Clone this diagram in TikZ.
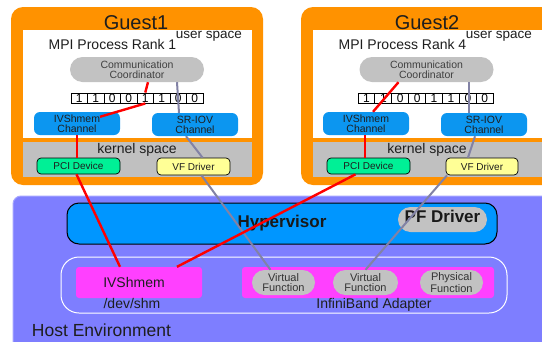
\documentclass[tikz,border=0pt]{standalone}
\usepackage{fontspec}
\setmainfont{Liberation Sans}
\usetikzlibrary{calc}
\definecolor{gorange}{RGB}{255,146,0}
\definecolor{kgray}{RGB}{192,192,192}
\definecolor{ccgray}{RGB}{194,194,194}
\definecolor{chblue}{RGB}{12,150,240}
\definecolor{hypblue}{RGB}{0,150,255}
\definecolor{pcigreen}{RGB}{0,240,150}
\definecolor{vfyellow}{RGB}{255,255,150}
\definecolor{hostblue}{RGB}{126,126,255}
\definecolor{hostline}{RGB}{165,165,255}
\definecolor{magent}{RGB}{255,64,255}
\definecolor{glinec}{RGB}{130,130,165}
\definecolor{txtdark}{RGB}{30,30,30}
\newcommand{\fs}[1]{\fontsize{#1}{#1}\selectfont}
\begin{document}
\begin{tikzpicture}[x=1pt,y=-1pt,
  lbl/.style={inner sep=0pt, text=txtdark, anchor=base},
  ccbox/.style={fill=ccgray, rounded corners=12.5pt, minimum width=134pt, minimum height=25pt, inner sep=0pt, align=center, text=black!75, font=\fs{10.5}, execute at begin node=\setlength{\baselineskip}{10pt}},
  chbox/.style={fill=chblue, rounded corners=6pt, minimum width=86pt, minimum height=23pt, inner sep=0pt, align=center, text=txtdark, font=\fs{10.5}, execute at begin node=\setlength{\baselineskip}{10pt}},
  devbox/.style={draw=black, line width=0.7pt, rounded corners=4pt, minimum height=16pt, inner sep=0pt, text=txtdark, font=\fs{10}},
  bitcell/.style={draw=black, line width=0.9pt, fill=white, minimum height=10pt, inner sep=0pt, font=\fs{12}},
  fnbox/.style={fill=ccgray, rounded corners=12.5pt, minimum height=25pt, inner sep=0pt, align=center, text=black!80, font=\fs{11}, execute at begin node=\setlength{\baselineskip}{10pt}},
  redline/.style={draw=red, line width=2.4pt},
  grayline/.style={draw=glinec, line width=2pt}]
\clip (0,0) rectangle (542,341);
\fill[white] (0,0) rectangle (542,341);
% host environment
\draw[fill=hostblue, draw=hostline, line width=1pt, rounded corners=8pt] (13,196) rectangle (580,380);
% guests
\fill[gorange, rounded corners=12pt] (11,7) rectangle (263,185);
\fill[white] (23,30) rectangle (252,138);
\fill[kgray] (23,142) rectangle (252,177);
\fill[gorange, rounded corners=12pt] (301,7) rectangle (580,185);
\fill[white] (313,30) rectangle (570,138);
\fill[kgray] (313,142) rectangle (570,177);
% guest titles and texts
\node[lbl, font=\fs{20}] (g1) at (136,29) {Guest1};
\node[lbl, font=\fs{20}] (g2) at (427,29) {Guest2};
\node[lbl, font=\fs{13.5}] (us1) at (209,38.5) {user space};
\node[lbl, font=\fs{13.5}] (us2) at (499,38.5) {user space};
\node[lbl, font=\fs{14}] (mpi1) at (112.5,49) {MPI Process Rank 1};
\node[lbl, font=\fs{14}] (mpi2) at (402.5,49) {MPI Process Rank 4};
\node[lbl, font=\fs{14}] (ks1) at (137,153) {kernel space};
\node[lbl, font=\fs{14}] (ks2) at (427,153) {kernel space};
% communication coordinators
\node[ccbox] (c1) at (137,69.5) {Communication\\Coordinator};
\node[ccbox] (c2) at (426.5,69.5) {Communication\\Coordinator};
% bit arrays
\foreach \i/\v in {1/1,2/1,3/0,4/0,5/1,6/1,7/0,8/0} {
  \node[bitcell, minimum width=16.5pt] (b1-\i) at ({71+16.5*\i-8.25},98) {\v};
  \node[bitcell, minimum width=16.9pt] (b2-\i) at ({358+16.9*\i-8.45},98) {\v};
}
% channels
\node[chbox] (ivc1) at (77,123.5) {IVShmem\\Channel};
\node[chbox] (srv1) at (195,124.5) {SR-IOV\\Channel};
\node[chbox] (ivc2) at (366,123.5) {IVShmem\\Channel};
\node[chbox] (srv2) at (484,124.5) {SR-IOV\\Channel};
% kernel devices
\node[devbox, fill=pcigreen, minimum width=83pt] (pci1) at (78.5,166) {PCI Device};
\node[devbox, fill=vfyellow, minimum width=73pt, minimum height=17pt] (vf1) at (193.5,166.5) {VF Driver};
\node[devbox, fill=pcigreen, minimum width=83pt] (pci2) at (368.5,166) {PCI Device};
\node[devbox, fill=vfyellow, minimum width=72pt, minimum height=17pt] (vf2) at (482,166.5) {VF Driver};
% hypervisor
\node[draw=black, line width=1pt, fill=hypblue, rounded corners=12pt, minimum width=430pt, minimum height=41pt, inner sep=0pt, font=\bfseries\fs{17}, text=black!90] (hyp) at (282,223.5) {Hypervisor};
\node[fill=ccgray, rounded corners=12.5pt, minimum width=89pt, minimum height=25pt, inner sep=0pt, text height=12pt, text depth=6pt, font=\bfseries\fs{17}, text=black!90] (pf) at (442.5,219.5) {PF Driver};
% host shared memory & adapter
\draw[white, line width=1pt, rounded corners=18pt] (61,257) rectangle (507,313);
\node[fill=magent, rounded corners=3pt, minimum width=126pt, minimum height=31pt, inner sep=0pt] (ivs) at (139,282.5) {};
\node[lbl, font=\fs{14}] (ivst) at (134,287) {IVShmem};
\node[lbl, font=\fs{14}] (shm) at (132,308.5) {/dev/shm};
\node[fill=magent, rounded corners=3pt, minimum width=252pt, minimum height=31pt, inner sep=0pt] (iba) at (368,282.5) {};
\node[lbl, font=\fs{14}] (ibat) at (374,308.5) {InfiniBand Adapter};
\node[fnbox, minimum width=63pt] (vfn1) at (283.5,282.5) {Virtual\\Function};
\node[fnbox, minimum width=65pt] (vfn2) at (365.5,282.5) {Virtual\\Function};
\node[fnbox, minimum width=63pt] (phf) at (451.5,282.5) {Physical\\Function};
\node[lbl, font=\fs{17.5}] (he) at (101.5,336) {Host Environment};
% gray (SR-IOV) paths
\draw[grayline] ([xshift=40pt]c1.south) -- ([xshift=-16pt]srv1.north);
\draw[grayline] ([xshift=-9pt]srv1.south) -- ([xshift=9pt]vf1.north);
\draw[grayline] ([xshift=8pt]vf1.south) -- ([xshift=-13pt]vfn1.north);
\draw[grayline] ([xshift=42.5pt]c2.south) -- ([xshift=-15pt]srv2.north);
\draw[grayline] ([xshift=-9pt]srv2.south) -- ([xshift=-14pt]vf2.north);
\draw[grayline] ([xshift=-35pt]vf2.south) -- (vfn2.north);
% red (IVShmem) paths
\draw[redline] ([xshift=11pt]c1.south) -- (b1-5.north);
\draw[redline] (b1-5.south) -- ($(ivc1.north)+(23,5)$);
\draw[redline] (ivc1.south) -- (ivc1.south |- pci1.north);
\draw[redline] ([xshift=-2pt]pci1.south) -- ([xshift=-19pt]ivs.north);
\draw[redline] ([xshift=-28pt]c2.south) -- ([xshift=7pt]ivc2.north);
\draw[redline] ([xshift=-1pt]ivc2.south) -- ([xshift=-1pt]ivc2.south |- pci2.north);
\draw[redline] ([xshift=-13pt]pci2.south) -- ([xshift=38pt]ivs.north);
\end{tikzpicture}
\end{document}
